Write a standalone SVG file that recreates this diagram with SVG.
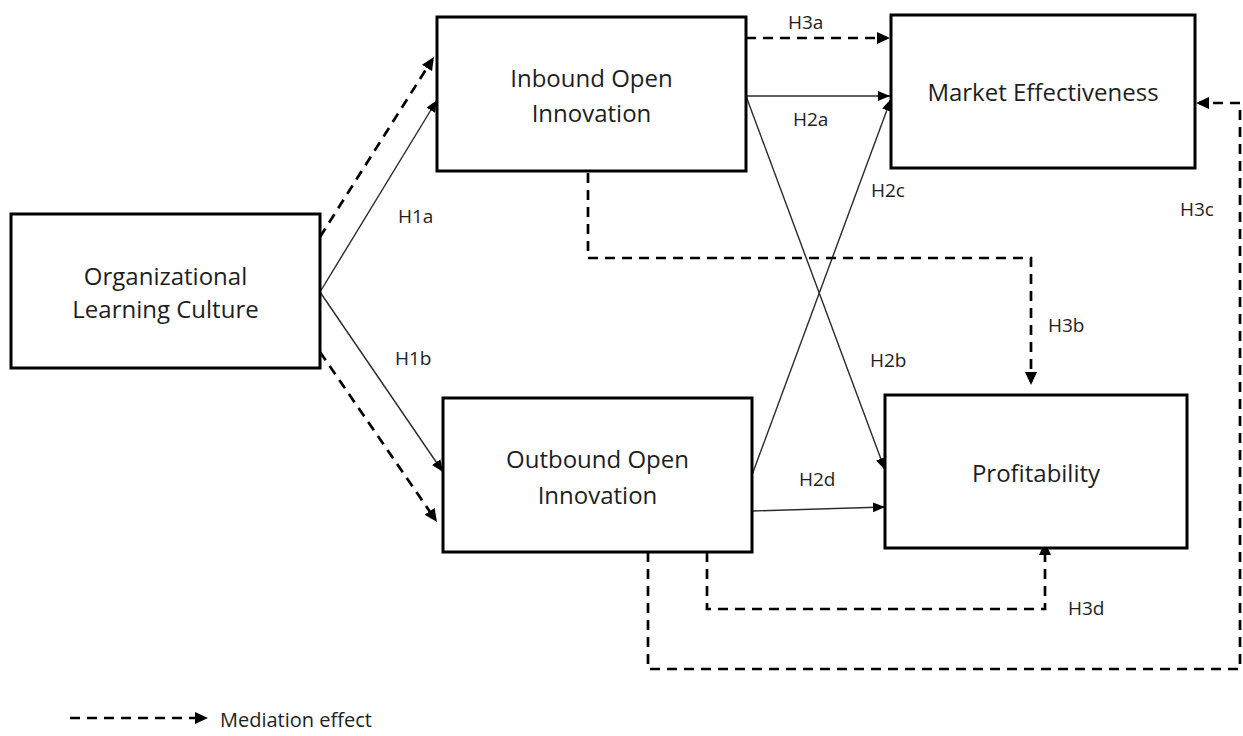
<svg xmlns="http://www.w3.org/2000/svg" width="1243" height="736" viewBox="0 0 1243 736">
<style>
.box{fill:#fff;stroke:#000;stroke-width:3}
.nt{font-family:"Open Sans","Noto Sans",sans-serif;font-size:24px;fill:#1e1e1e;text-anchor:middle}
.lb{font-family:"Open Sans","Noto Sans",sans-serif;font-size:19px;fill:#1e1e1e}
.sol{fill:none;stroke:#2a2a2a;stroke-width:1.4}
.med{fill:none;stroke:#000;stroke-width:2.7;stroke-dasharray:10 7}
</style>
<defs>
<marker id="ah" markerUnits="userSpaceOnUse" markerWidth="14" markerHeight="12" refX="12" refY="5" orient="auto"><path d="M0,0 L12,5 L0,10 z" fill="#000"/></marker>
<marker id="ahd" markerUnits="userSpaceOnUse" markerWidth="16" markerHeight="14" refX="10" refY="6" orient="auto"><path d="M0,0 L13,6 L0,12 z" fill="#000"/></marker>
</defs>
<g id="connectors">
<line class="sol" x1="320" y1="292" x2="437" y2="100" marker-end="url(#ah)"/>
<line class="sol" x1="320" y1="292" x2="443" y2="472" marker-end="url(#ah)"/>
<line class="sol" x1="746" y1="96" x2="890" y2="96" marker-end="url(#ah)"/>
<line class="sol" x1="746" y1="96" x2="885" y2="470" marker-end="url(#ah)"/>
<line class="sol" x1="752" y1="475" x2="891" y2="99" marker-end="url(#ah)"/>
<line class="sol" x1="752" y1="511" x2="885" y2="507" marker-end="url(#ah)"/>
<line class="med" x1="320" y1="237" x2="432.3" y2="59.5" marker-end="url(#ahd)"/>
<line class="med" x1="320" y1="352" x2="435.3" y2="519.5" marker-end="url(#ahd)"/>
<line class="med" x1="746" y1="38" x2="887" y2="38" marker-end="url(#ahd)"/>
<polyline class="med" points="588,173 588,258 1031,258 1031,382" marker-end="url(#ahd)"/>
<polyline class="med" points="648,552 648,669 1240,669 1240,103 1199,103" marker-end="url(#ahd)"/>
<polyline class="med" points="707,552 707,609 1045,609 1045,545" marker-end="url(#ahd)"/>
<line class="med" x1="70" y1="718" x2="205" y2="718" marker-end="url(#ahd)"/>
</g>
<g id="olc"><rect class="box" x="11" y="214" width="309" height="154"/><text class="nt" x="165.5" y="285">Organizational</text><text class="nt" x="165.5" y="318">Learning Culture</text></g>
<g id="inbound"><rect class="box" x="437" y="17" width="309" height="154"/><text class="nt" x="591.5" y="87">Inbound Open</text><text class="nt" x="591.5" y="122">Innovation</text></g>
<g id="outbound"><rect class="box" x="443" y="398" width="309" height="154"/><text class="nt" x="597.5" y="468">Outbound Open</text><text class="nt" x="597.5" y="504">Innovation</text></g>
<g id="market"><rect class="box" x="891" y="15" width="304" height="153"/><text class="nt" x="1043" y="101">Market Effectiveness</text></g>
<g id="profitability"><rect class="box" x="885" y="395" width="302" height="153"/><text class="nt" x="1036" y="482">Profitability</text></g>
<g id="labels">
<text class="lb" x="398" y="223">H1a</text>
<text class="lb" x="395" y="365">H1b</text>
<text class="lb" x="788" y="29">H3a</text>
<text class="lb" x="793" y="126">H2a</text>
<text class="lb" x="871" y="197">H2c</text>
<text class="lb" x="1180" y="216">H3c</text>
<text class="lb" x="1048" y="332">H3b</text>
<text class="lb" x="870" y="367">H2b</text>
<text class="lb" x="799" y="486">H2d</text>
<text class="lb" x="1068" y="615">H3d</text>
</g>
<g id="legend"><text class="lb" x="220" y="727" style="font-size:20px">Mediation effect</text></g>
</svg>
